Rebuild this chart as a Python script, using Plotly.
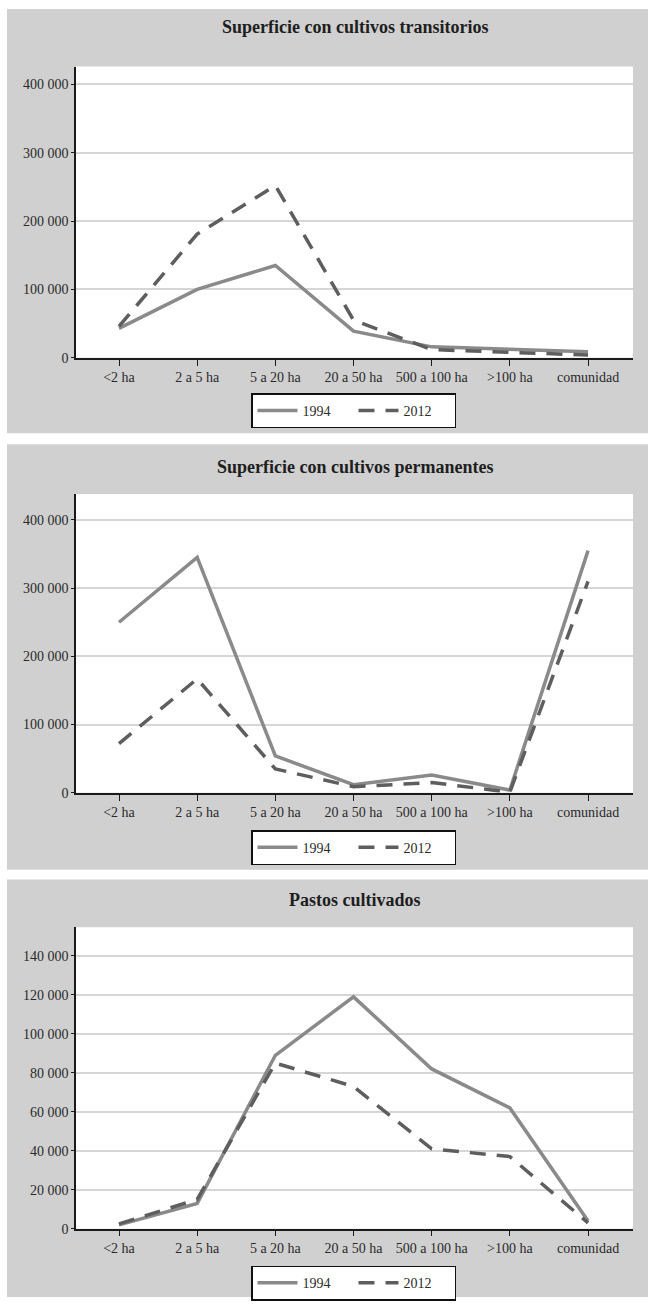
import plotly.graph_objects as go

# Categorías de tamaño de la unidad agropecuaria
categories = ["<2 ha", "2 a 5 ha", "5 a 20 ha", "20 a 50 ha", "500 a 100 ha", ">100 ha", "comunidad"]
years = ["1994", "2012"]

# Superficie con cultivos transitorios (ha)
transitorios_1994 = [43000, 100000, 135000, 39000, 16000, 12000, 9000]
transitorios_2012 = [46000, 181000, 252000, 55000, 12000, 8000, 4000]

# Superficie con cultivos permanentes (ha)
permanentes_1994 = [250000, 345000, 54000, 12000, 26000, 4000, 355000]
permanentes_2012 = [72000, 167000, 35000, 9000, 15000, 1000, 310000]

# Pastos cultivados (ha)
pastos_1994 = [2000, 13000, 89000, 119000, 82000, 62000, 4000]
pastos_2012 = [2500, 15000, 85000, 73000, 41000, 37000, 3000]

titles = ["Superficie con cultivos transitorios",
          "Superficie con cultivos permanentes",
          "Pastos cultivados"]
y_ticks = [
    [0, 100000, 200000, 300000, 400000],
    [0, 100000, 200000, 300000, 400000],
    [0, 20000, 40000, 60000, 80000, 100000, 120000, 140000],
]
y_max = [426000, 438000, 154700]

W, H = 648, 1305
FONT = "Liberation Serif"
PANEL_BG = "#d0d0d0"
C1994 = "#8a8a8a"
C2012 = "#5e5e5e"


def px_x(px):
    return px / W


def px_y(py):
    return 1 - py / H


# panel layout in pixels: (panel top, panel bottom, title y, plot top, zero line, legend centre)
panels = [
    (9, 436, 27, 67, 360, 413.5),
    (447, 875, 470, 497, 797.7, 853),
    (885, 1305, 906, 933, 1236.3, 1291),
]
plot_left, plot_right = 76, 633

series = [
    (transitorios_1994, transitorios_2012),
    (permanentes_1994, permanentes_2012),
    (pastos_1994, pastos_2012),
]

fig = go.Figure()
shapes = []
annotations = []
layout = {}

for i, ((top, bottom, ty, ptop, pzero, lcy), (s94, s12)) in enumerate(zip(panels, series)):
    n = "" if i == 0 else str(i + 1)
    xa, ya = "x" + n, "y" + n
    leg = "legend" + n

    fig.add_trace(go.Scatter(
        x=categories, y=s94, name=years[0], mode="lines",
        line=dict(color=C1994, width=3.5),
        xaxis=xa, yaxis=ya, legend=leg))
    fig.add_trace(go.Scatter(
        x=categories, y=s12, name=years[1], mode="lines",
        line=dict(color=C2012, width=3.5, dash="16px,11px"),
        xaxis=xa, yaxis=ya, legend=leg))

    # grey panel and the white plotting area on top of it
    shapes.append(dict(type="rect", xref="paper", yref="paper", layer="below",
                       x0=px_x(7), x1=1, y0=px_y(bottom), y1=px_y(top),
                       fillcolor=PANEL_BG, line=dict(width=0)))
    shapes.append(dict(type="rect", xref="paper", yref="paper", layer="below",
                       x0=px_x(plot_left), x1=px_x(plot_right),
                       y0=px_y(pzero), y1=px_y(ptop),
                       fillcolor="white", line=dict(width=0)))
    annotations.append(dict(text="<b>" + titles[i] + "</b>", xref="paper", yref="paper",
                            x=px_x((plot_left + plot_right) / 2), y=px_y(ty),
                            xanchor="center", yanchor="middle", showarrow=False,
                            font=dict(family=FONT, size=18, color="#1e1e1e")))

    layout["xaxis" + n] = dict(
        domain=[px_x(plot_left), px_x(plot_right)],
        anchor=ya, type="category", range=[-0.55, 6.575],
        showline=True, linecolor="#1a1a1a", linewidth=1.5,
        ticks="outside", ticklen=6, tickwidth=1, tickcolor="#1a1a1a",
        showgrid=False, zeroline=False,
        tickfont=dict(family=FONT, size=14, color="#2a2a2a"),
        fixedrange=True)
    layout["yaxis" + n] = dict(
        domain=[px_y(pzero), px_y(ptop)],
        anchor=xa, range=[0, y_max[i]],
        tickvals=y_ticks[i], tickformat=",d",
        showline=True, linecolor="#1a1a1a", linewidth=1.5,
        ticks="outside", ticklen=3, tickwidth=1, tickcolor="#1a1a1a",
        showgrid=True, gridcolor="#d6d6d6", gridwidth=2, zeroline=False,
        tickfont=dict(family=FONT, size=14, color="#2a2a2a"),
        fixedrange=True)
    layout[leg] = dict(
        orientation="h", x=px_x(353.5), xanchor="center",
        y=px_y(lcy), yanchor="middle",
        bgcolor="white", bordercolor="#111111", borderwidth=1.5,
        font=dict(family=FONT, size=14, color="#2a2a2a"),
        itemwidth=40, entrywidth=46, tracegroupgap=0)

fig.update_layout(
    width=W, height=H,
    margin=dict(l=0, r=0, t=0, b=0),
    paper_bgcolor="white", plot_bgcolor="white",
    separators=". ",
    shapes=shapes, annotations=annotations,
    **layout)

fig.write_html("out.html")
